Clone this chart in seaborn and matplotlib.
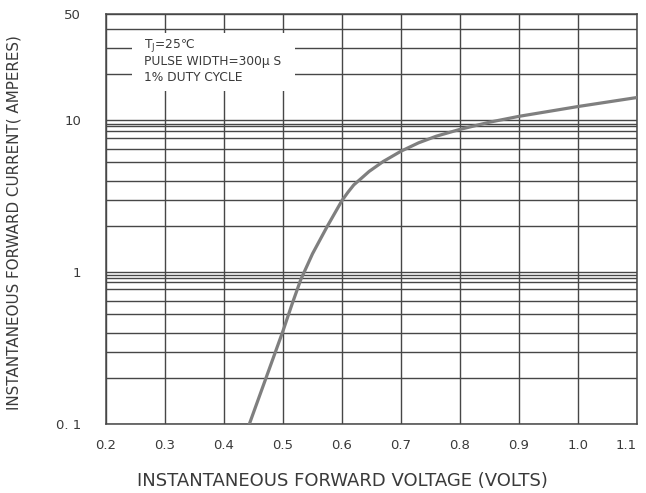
import matplotlib
matplotlib.use("Agg")
import matplotlib.pyplot as plt
import seaborn as sns
import pandas as pd
from matplotlib.ticker import FixedLocator, NullFormatter
from matplotlib.patches import Rectangle

# ---- data ----
voltage = [0.443, 0.47, 0.50, 0.515, 0.53, 0.55, 0.575, 0.60, 0.61, 0.62, 0.633,
           0.646, 0.67, 0.70, 0.73, 0.76, 0.80, 0.85, 0.90, 1.00, 1.10]
current = [0.10, 0.195, 0.41, 0.61, 0.89, 1.32, 2.0, 2.96, 3.35, 3.75, 4.15,
           4.6, 5.35, 6.25, 7.1, 7.85, 8.7, 9.7, 10.6, 12.3, 14.1]

x_ticks = [0.2, 0.3, 0.4, 0.5, 0.6, 0.7, 0.8, 0.9, 1.0, 1.1]
x_tick_labels = ["0.2", "0.3", "0.4", "0.5", "0.6", "0.7", "0.8", "0.9", "1.0", "1.1"]
y_ticks = [0.1, 1, 10, 50]
y_tick_labels = ["0. 1", "1", "10", "50"]
y_grid = [0.2, 0.3, 0.4, 0.53, 0.65, 0.77, 0.86, 0.91, 0.96,
          2, 3, 4, 5.3, 6.5, 7.6, 8.5, 9.1, 9.5, 20, 30, 40]

notes = ["T$_{\\rm J}$=25\u2103", "PULSE WIDTH=300\u03bc S", "1% DUTY CYCLE"]
x_title = "INSTANTANEOUS FORWARD VOLTAGE (VOLTS)"
y_title = "INSTANTANEOUS FORWARD CURRENT( AMPERES)"

df = pd.DataFrame({"V": voltage, "I": current})

sns.set_theme(style="white")
plt.rcParams["font.family"] = ["DejaVu Sans"]
plt.rcParams["axes.axisbelow"] = True

txt = "#3a3a3a"
gridc = "#474747"

fig = plt.figure(figsize=(6.46, 4.93), dpi=100)
ax = fig.add_axes([106 / 646, 1 - 424 / 493, (637 - 106) / 646, (424 - 14) / 493])

sns.lineplot(data=df, x="V", y="I", ax=ax, color="#7f7f7f", linewidth=2.3, zorder=3)

ax.set_yscale("log")
ax.set_xlim(0.2, 1.1)
ax.set_ylim(0.1, 50)

ax.set_xticks(x_ticks)
ax.set_xticklabels(x_tick_labels)
ax.yaxis.set_major_locator(FixedLocator(y_ticks))
ax.set_yticklabels(y_tick_labels)
ax.yaxis.set_minor_locator(FixedLocator(y_grid))
ax.yaxis.set_minor_formatter(NullFormatter())

ax.grid(True, which="both", axis="y", color=gridc, linewidth=1.0)
ax.grid(True, which="major", axis="x", color=gridc, linewidth=1.0)
ax.tick_params(axis="both", which="both", length=0, colors=txt, labelsize=9.5)
ax.tick_params(axis="x", pad=11)
ax.tick_params(axis="y", pad=18)
ax.set_xlabel("")
ax.set_ylabel("")
ax.get_xticklabels()[-1].set_ha("right")
ax.get_xticklabels()[-1].set_x(1.1)

for s in ax.spines.values():
    s.set_color(gridc)
    s.set_linewidth(1.1)

# white panel behind the notes
ax.add_patch(Rectangle((0.244, 15.6), 0.276, 37.7 - 15.6, facecolor="white",
                       edgecolor="none", zorder=1))
for i, t in enumerate(notes):
    ax.text(0.265, [30.9, 24.2, 19.0][i], t, fontsize=8.8, color=txt,
            va="center", ha="left", zorder=4)

fig.text(342 / 646, 1 - 481 / 493, x_title, fontsize=13, color=txt,
         ha="center", va="center")
fig.text(14 / 646, 1 - 223 / 493, y_title, fontsize=10.9, color=txt,
         ha="center", va="center", rotation=90)

fig.savefig("out.png", dpi=100)
